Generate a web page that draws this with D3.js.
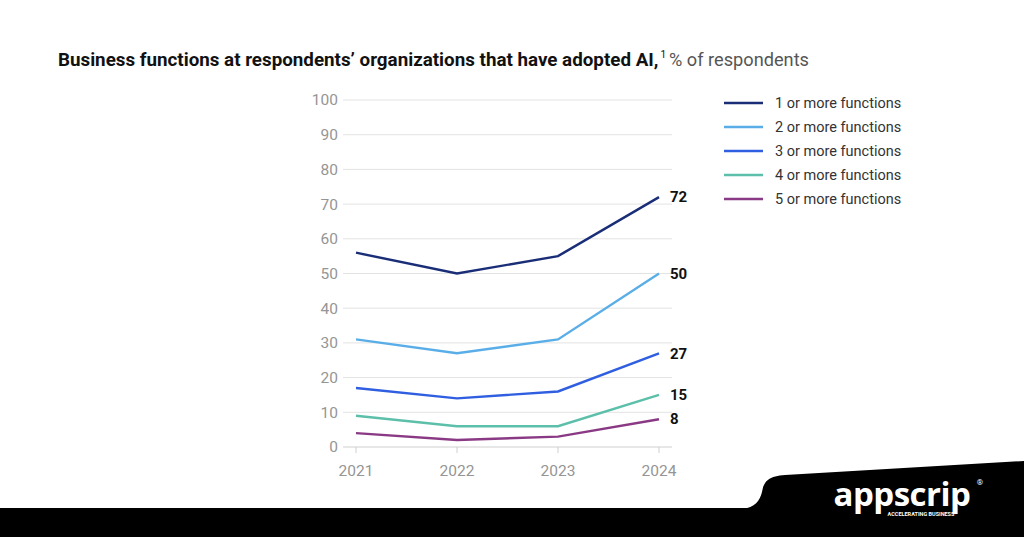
<!DOCTYPE html>
<html><head><meta charset="utf-8">
<script src="https://cdn.jsdelivr.net/npm/d3@7"></script>
<style>body{margin:0;background:#fff;overflow:hidden}svg{display:block}</style>
</head><body>
<svg id="c" width="1024" height="537"></svg>
<script>
const years = ["2021","2022","2023","2024"];
const seriesNames = ["1 or more functions","2 or more functions","3 or more functions","4 or more functions","5 or more functions"];
const s1 = [56,50,55,72];
const s2 = [31,27,31,50];
const s3 = [17,14,16,27];
const s4 = [9,6,6,15];
const s5 = [4,2,3,8];
const yTicks = [0,10,20,30,40,50,60,70,80,90,100];
const colors = ["#1a2e78","#5aaee8","#2f5fe0","#5cbfaa","#8a3a84"];
const series = [s1,s2,s3,s4,s5];

const svg = d3.select("#c");
const font = "Roboto, 'Liberation Sans', Arial, sans-serif";

// title
const t = svg.append("text").attr("x",58).attr("y",66).attr("font-family",font).attr("font-size",18.8).attr("fill","#111");
t.append("tspan").attr("font-weight","bold").text("Business functions at respondents’ organizations that have adopted AI,");
t.append("tspan").attr("font-size",10).attr("dy",-8).attr("dx",2).attr("fill","#111").text("1");
t.append("tspan").attr("dy",8).attr("fill","#555").attr("dx",3).attr("font-size",18.2).text("% of respondents");

const x = d3.scalePoint().domain(years).range([356,659]);
const y = d3.scaleLinear().domain([0,100]).range([447,100]);

// grid
const g = svg.append("g");
g.selectAll("line.grid").data(yTicks).join("line")
  .attr("x1",343).attr("x2",672).attr("y1",d=>y(d)).attr("y2",d=>y(d))
  .attr("stroke",d=>d===0?"#cfcfcf":"#e3e3e3").attr("stroke-width",1);
g.selectAll("text.yt").data(yTicks).join("text")
  .attr("x",338).attr("y",d=>y(d)).attr("dy","0.35em").attr("text-anchor","end")
  .attr("font-family",font).attr("font-size",15.5).attr("fill","#959595").text(d=>d);
// x ticks
g.selectAll("line.xt").data(years).join("line")
  .attr("x1",d=>x(d)).attr("x2",d=>x(d)).attr("y1",447).attr("y2",453)
  .attr("stroke","#cfcfcf");
g.selectAll("text.xl").data(years).join("text")
  .attr("x",d=>x(d)).attr("y",476).attr("text-anchor","middle")
  .attr("font-family",font).attr("font-size",15.5).attr("fill","#959595").text(d=>d);

const line = d3.line().x((d,i)=>x(years[i])).y(d=>y(d));
svg.selectAll("path.s").data(series).join("path")
  .attr("d",d=>line(d)).attr("fill","none").attr("stroke",(d,i)=>colors[i]).attr("stroke-width",2.4);

svg.selectAll("text.end").data(series).join("text")
  .attr("x",670).attr("y",d=>y(d[3])).attr("dy","0.35em")
  .attr("font-family",font).attr("font-weight","bold").attr("font-size",15).attr("fill","#111")
  .text(d=>d[3]);

// legend
const lg = svg.append("g");
seriesNames.forEach((n,i)=>{
  const yy = 103 + i*24;
  lg.append("line").attr("x1",724).attr("x2",763).attr("y1",yy).attr("y2",yy).attr("stroke",colors[i]).attr("stroke-width",2.4);
  lg.append("text").attr("x",775).attr("y",yy).attr("dy","0.35em").attr("font-family",font).attr("font-size",14.5).attr("fill","#333").text(n);
});

// footer
svg.append("rect").attr("x",0).attr("y",508).attr("width",1024).attr("height",29).attr("fill","#000");
svg.append("path").attr("d","M742,509 C755,508 760,500 762,492 C764,480 770,476 785,475 L1024,461 L1024,510 Z").attr("fill","#000");
svg.append("text").attr("x",902).attr("y",506).attr("text-anchor","middle").attr("font-family","'Open Sans', Roboto, sans-serif").attr("font-weight","bold").attr("font-size",33).attr("fill","#fff").attr("letter-spacing",-0.5).text("appscrip");
svg.append("text").attr("x",921).attr("y",516).attr("text-anchor","middle").attr("font-family",font).attr("font-weight","bold").attr("font-size",5.5).attr("fill","#fff").text("ACCELERATING BUSINESS");
svg.append("text").attr("x",980).attr("y",485).attr("text-anchor","middle").attr("font-family",font).attr("font-size",8).attr("fill","#fff").text("®");
</script>
</body></html>
